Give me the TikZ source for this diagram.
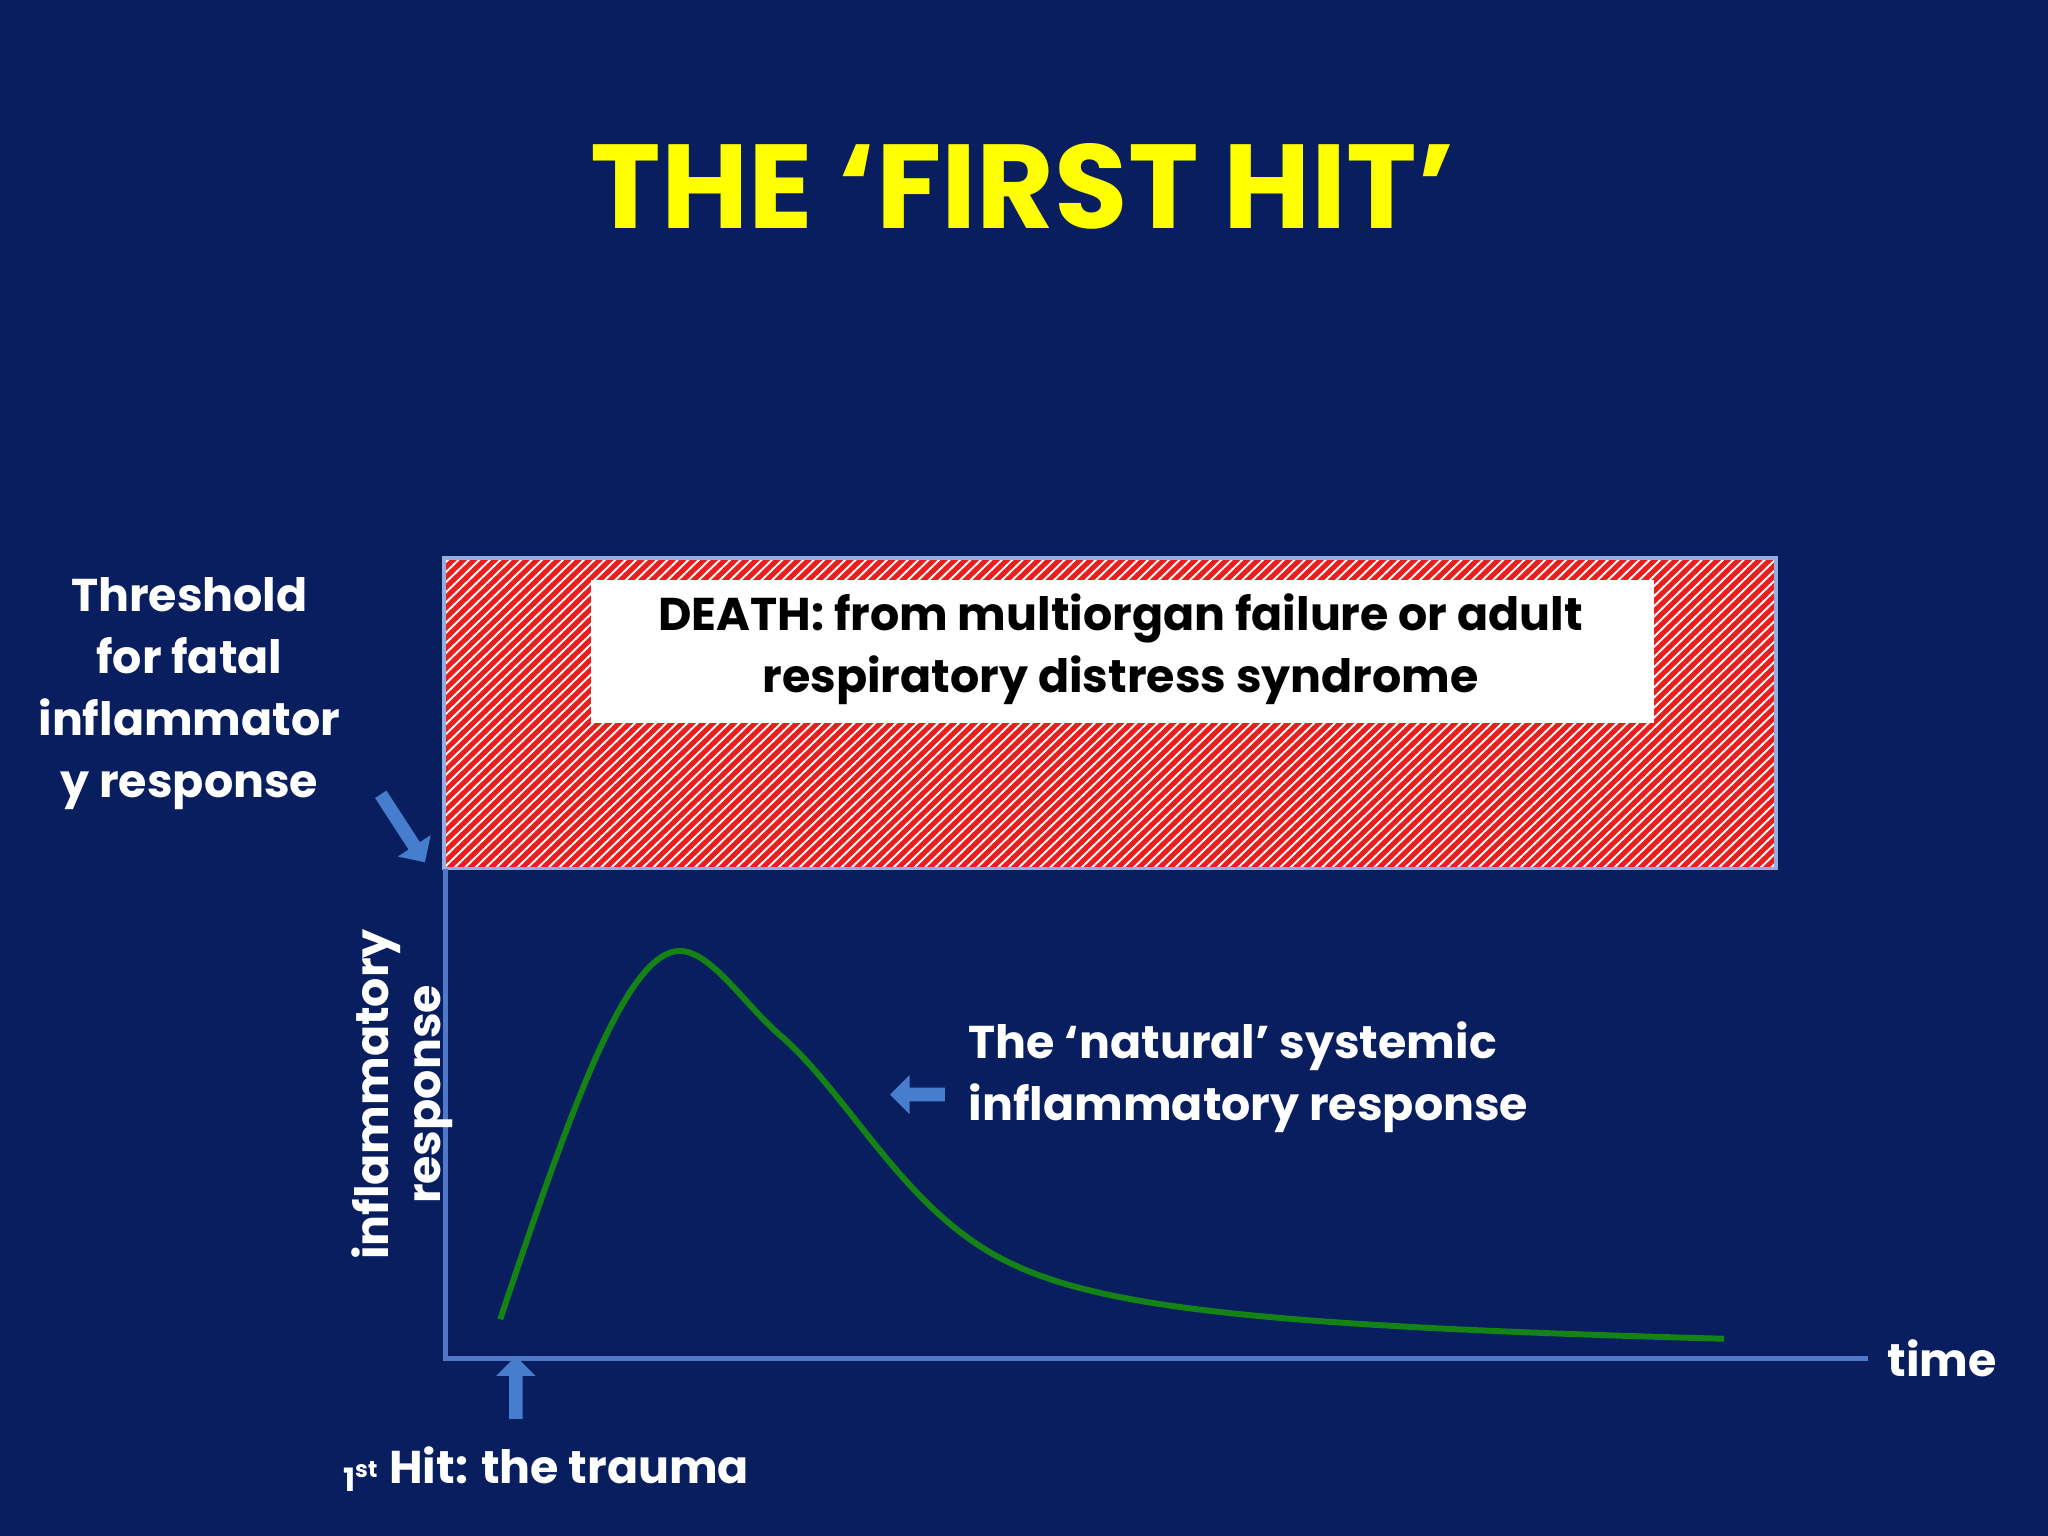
\documentclass[tikz,border=0pt]{standalone}
\usepackage{fontspec}
\setmainfont{Poppins}
\usetikzlibrary{shapes.arrows}
\definecolor{bg}{RGB}{8,30,94}
\definecolor{ttl}{RGB}{255,255,0}
\definecolor{ax}{RGB}{80,120,200}
\definecolor{arr}{RGB}{70,125,205}
\definecolor{hat}{RGB}{235,30,30}
\definecolor{crv}{RGB}{20,130,20}
\tikzset{
 lbl/.style={text=white,font=\bfseries\fontsize{10}{13.5}\selectfont,align=center,inner sep=0},
 barrow/.style={single arrow,fill=arr,draw=none,minimum height=#1,minimum width=0.30cm,single arrow head extend=0.07cm,inner sep=0.03cm},
}
\begin{document}
\begin{tikzpicture}[x=0.01cm,y=-0.01cm]
\fill[bg] (0,0) rectangle (1568,1176);
\useasboundingbox (0,0) rectangle (1568,1176);
\node[text=ttl,font=\bfseries\fontsize{26}{30}\selectfont,inner sep=0] (title) at (783,143) {THE ‘FIRST HIT’};
% hatched box
\begin{scope}
\clip (340,427) rectangle (1360,665);
\fill[white] (340,427) rectangle (1360,665);
\foreach \i in {0,...,160}{
 \draw[hat,line width=1.1pt] (340+\i*8-260,672) -- (340+\i*8,420);
}
\end{scope}
\draw[ax!60!white,line width=0.8pt] (340,427) rectangle (1360,665);
\node[fill=white,minimum width=8.13cm,minimum height=1.1cm,anchor=north west,inner sep=0] (death) at (452,443) {};
\node[lbl,text=black] (deathtxt) at (858,497) {DEATH: from multiorgan failure or adult\\respiratory distress syndrome};
% axes
\coordinate (o) at (341,1040);
\coordinate (ytop) at (341,665);
\coordinate (xend) at (1430,1040);
\draw[ax,line width=1.2pt] (ytop) -- (o) -- (xend);
% curve
\draw[crv,line width=1.3pt] (383,1010) .. controls (440,840) and (480,730) .. (520,728)
 .. controls (545,728) and (570,770) .. (600,795)
 .. controls (650,840) and (690,920) .. (760,960)
 .. controls (830,1000) and (950,1015) .. (1320,1025);
% labels
\node[lbl] (thr) at (145,531) {Threshold\\for fatal\\inflammator\\y response};
\node[barrow=0.62cm,rotate=-57] (a1) at (307,632) {};
\node[lbl,rotate=90] (yl1) at (288,838) {inflammatory};
\node[lbl,rotate=90] (yl2) at (332,838) {response};
\node[lbl,align=left,anchor=west] (nat) at (741,825) {The ‘natural’ systemic\\inflammatory response};
\node[barrow=0.42cm,rotate=180] (a2) at (705,838) {};
\node[lbl] (time) at (1487,1040) {time};
\node[barrow=0.48cm,rotate=90] (a3) at (395,1065) {};
\node[lbl,anchor=west] (hit) at (262,1125) {\raisebox{-0.3ex}{\fontsize{7}{7}\selectfont 1\textsuperscript{st}} Hit: the trauma};
\end{tikzpicture}
\end{document}
